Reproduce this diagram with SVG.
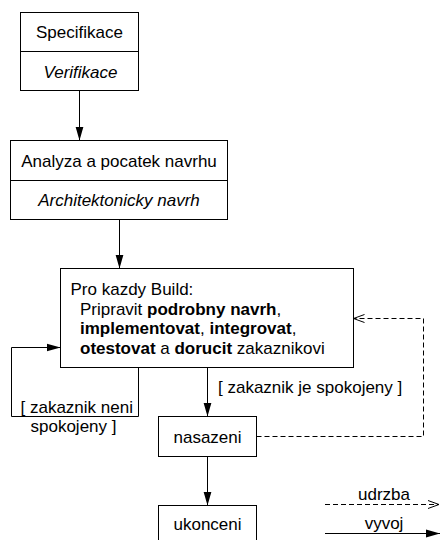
<svg xmlns="http://www.w3.org/2000/svg" width="440" height="540" viewBox="0 0 440 540">
  <style>
    text { font-family: "Liberation Sans", Arial, sans-serif; font-size: 17px; fill: #000; }
    .c { text-anchor: middle; }
    .i { font-style: italic; }
    .b { font-weight: bold; }
    .box { fill: #fff; stroke: #000; stroke-width: 1; }
    .ln { fill: none; stroke: #000; stroke-width: 1; }
    .dash { fill: none; stroke: #000; stroke-width: 1; stroke-dasharray: 5 3; }
  </style>
  <defs>
    <marker id="solid" markerUnits="userSpaceOnUse" markerWidth="14" markerHeight="9" refX="14" refY="4.5" orient="auto">
      <path d="M0,0.5 L14,4.5 L0,8.5 z" fill="#000"/>
    </marker>
    <marker id="open" markerUnits="userSpaceOnUse" markerWidth="13" markerHeight="10" refX="12" refY="5" orient="auto">
      <path d="M1,1 L12,5 L1,9" fill="none" stroke="#000" stroke-width="1"/>
    </marker>
  </defs>

  <!-- connectors -->
  <g id="connectors">
    <line class="ln" x1="79.5" y1="90.5" x2="79.5" y2="140.5" marker-end="url(#solid)"/>
    <line class="ln" x1="119.5" y1="219.5" x2="119.5" y2="268.5" marker-end="url(#solid)"/>
    <path class="ln" d="M138.5,367.5 V416.5 H11.5 V347.5 H60.5" marker-end="url(#solid)"/>
    <line class="ln" x1="207.5" y1="367.5" x2="207.5" y2="416.5" marker-end="url(#solid)"/>
    <path class="dash" d="M256.5,436.5 H423.5 V318.5 H353.5" marker-end="url(#open)"/>
    <line class="ln" x1="207.5" y1="456.5" x2="207.5" y2="505.5" marker-end="url(#solid)"/>
    <text x="20.5" y="413">[ zakaznik neni</text>
    <text x="30.5" y="431.5">spokojeny ]</text>
    <text x="218" y="393">[ zakaznik je spokojeny ]</text>
  </g>

  <!-- nodes -->
  <g id="specifikace">
    <rect class="box" x="20.5" y="12.5" width="118" height="78"/>
    <line class="ln" x1="20.5" y1="51.5" x2="138.5" y2="51.5"/>
    <text class="c" x="79.5" y="38">Specifikace</text>
    <text class="c i" x="80.5" y="77.5">Verifikace</text>
  </g>

  <g id="analyza">
    <rect class="box" x="10.5" y="140.5" width="217" height="79"/>
    <line class="ln" x1="10.5" y1="180.5" x2="227.5" y2="180.5"/>
    <text class="c" x="119" y="166.5">Analyza a pocatek navrhu</text>
    <text class="c i" x="119" y="205.5">Architektonicky navrh</text>
  </g>

  <g id="build">
    <rect class="box" x="60.5" y="268.5" width="293" height="99"/>
    <text x="70.5" y="295">Pro kazdy Build:</text>
    <text x="80" y="314.5">Pripravit <tspan class="b">podrobny navrh</tspan>,</text>
    <text x="80" y="334"><tspan class="b">implementovat</tspan>, <tspan class="b">integrovat</tspan>,</text>
    <text x="80" y="353.5"><tspan class="b">otestovat</tspan> a <tspan class="b">dorucit</tspan> zakaznikovi</text>
  </g>

  <g id="nasazeni">
    <rect class="box" x="158.5" y="416.5" width="98" height="40"/>
    <text class="c" x="207.5" y="442.5">nasazeni</text>
  </g>

  <g id="ukonceni">
    <rect class="box" x="158.5" y="505.5" width="98" height="40"/>
    <text class="c" x="207.5" y="530">ukonceni</text>
  </g>

  <!-- legend -->
  <g id="legend">
    <line class="dash" x1="325" y1="504.5" x2="439" y2="504.5" marker-end="url(#open)"/>
    <text class="c" x="384" y="500">udrzba</text>
    <line class="ln" x1="325" y1="533.5" x2="440" y2="533.5" marker-end="url(#solid)"/>
    <text class="c" x="384" y="528.5">vyvoj</text>
  </g>
</svg>
